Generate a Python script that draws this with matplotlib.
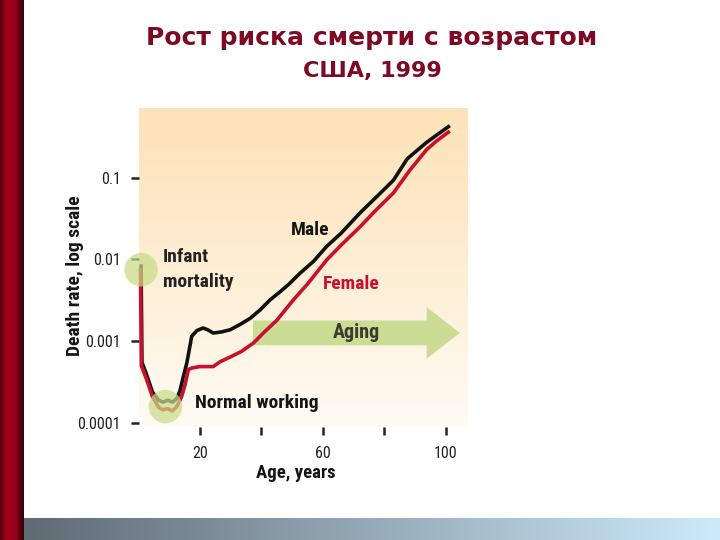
import numpy as np
import matplotlib
matplotlib.use('Agg')
import matplotlib.pyplot as plt
from matplotlib import font_manager
from matplotlib.patches import FancyArrow
from matplotlib.ticker import NullLocator, FixedLocator, FixedFormatter

# ---------------- data ----------------
male_age = [0.8, 1.1, 2.5, 4.5, 6.5, 8, 9.5, 11, 12.5, 13.5, 14.5, 15.7, 17.3, 19, 21,
            22.5, 24.3, 27, 29.8, 33, 36.3, 39.5, 42.8, 46, 49, 52.6, 57, 61.3,
            66, 72.1, 78.6, 83, 87.5, 91, 93.8, 97, 100.9]
male_rate = [0.0083, 0.00055, 0.00040, 0.00024, 0.00019, 0.00018, 0.00019, 0.00018,
             0.00020, 0.00025, 0.00036, 0.00054, 0.00115, 0.00135, 0.00145,
             0.00138, 0.00126, 0.00130, 0.00138, 0.00160, 0.0019, 0.0024, 0.0032,
             0.0040, 0.0050, 0.0068, 0.0095, 0.0145, 0.021, 0.037, 0.064, 0.093,
             0.17, 0.22, 0.27, 0.33, 0.42]
female_age = [0.6, 0.9, 2.5, 4.5, 6.5, 8, 9.5, 11, 12.5, 14, 15.2, 16.2, 17.3, 20,
              24.3, 26.5, 29.8, 33.5, 37.4, 41, 45, 50.4, 55, 61.3, 66, 72.1,
              77, 83, 88.4, 93.8, 97, 100.9]
female_rate = [0.0075, 0.00050, 0.00035, 0.00021, 0.000155, 0.000145, 0.00015,
               0.00014, 0.00016, 0.00021, 0.00030, 0.00045, 0.00047, 0.00049,
               0.00049, 0.00056, 0.00064, 0.00075, 0.00095, 0.0013, 0.0018,
               0.0032, 0.0050, 0.0099, 0.015, 0.025, 0.039, 0.065, 0.124, 0.22,
               0.28, 0.36]
ytick_vals = [0.0001, 0.001, 0.01, 0.1]
ytick_labels = ['0.0001', '0.001', '0.01', '0.1']
xtick_vals = [20, 40, 60, 80, 100]
xtick_labels = ['20', '', '60', '', '100']
title_line1 = 'Рост риска смерти с возрастом'
title_line2 = 'США, 1999'
male_label = 'Male'
female_label = 'Female'
infant_label = ['Infant', 'mortality']
normal_label = 'Normal working'
aging_label = 'Aging'
x_label = 'Age, years'
y_label = 'Death rate, log scale'


def pick(cands):
    for c in cands:
        try:
            font_manager.findfont(font_manager.FontProperties(family=c),
                                  fallback_to_default=False)
            return c
        except Exception:
            pass
    return 'DejaVu Sans'


narrow = pick(['Liberation Sans Narrow', 'Roboto Condensed', 'DejaVu Sans Condensed',
               'Liberation Sans'])

W, H = 720.0, 540.0
fig = plt.figure(figsize=(7.2, 5.4), dpi=100)
fig.patch.set_facecolor('white')

# ---- left red bar ----
bar_ax = fig.add_axes([0, 0, 24 / W, 1])
bar_cols = np.array([[0.38, 0.0, 0.06], [0.55, 0.0, 0.10], [0.62, 0.0, 0.12],
                     [0.62, 0.0, 0.12], [0.60, 0.0, 0.12], [0.58, 0.0, 0.11],
                     [0.35, 0.0, 0.05], [0.25, 0.0, 0.04]])
bar_ax.imshow(bar_cols[np.newaxis, :, :], aspect='auto', extent=(0, 1, 0, 1),
              interpolation='bilinear')
bar_ax.axis('off')

# ---- bottom gradient strip ----
strip_ax = fig.add_axes([24 / W, 0, 1 - 24 / W, 22 / H])
t = np.linspace(0, 1, 256)
c0 = np.array([95, 107, 115]) / 255
c1 = np.array([205, 234, 251]) / 255
strip = (c0[None, :] * (1 - t[:, None]) + c1[None, :] * t[:, None])
strip_ax.imshow(strip[np.newaxis, :, :], aspect='auto', extent=(0, 1, 0, 1))
strip_ax.axis('off')

# ---- plot area ----
left, top, bottom, width = 138.6, 108.0, 427.0, 328.5
pos = [left / W, 1 - bottom / H, width / W, (bottom - top) / H]

bg_ax = fig.add_axes(pos)
tt = np.linspace(0, 1, 256)
ctop = np.array([253, 227, 186]) / 255
cbot = np.array([255, 252, 245]) / 255
grad = ctop[None, :] * (1 - tt[:, None] ** 1.2) + cbot[None, :] * (tt[:, None] ** 1.2)
bg_ax.imshow(grad[:, np.newaxis, :], aspect='auto', extent=(0, 1, 0, 1))
bg_ax.axis('off')

ax = fig.add_axes(pos)
ax.patch.set_alpha(0)
ax.set_yscale('log')
ax.set_xlim(0, 107)
ax.set_ylim(10 ** (-4 - 4 / 81.8), 10 ** (-0.148))
for s in ax.spines.values():
    s.set_visible(False)

ax.yaxis.set_major_locator(FixedLocator(ytick_vals))
ax.yaxis.set_major_formatter(FixedFormatter(ytick_labels))
ax.yaxis.set_minor_locator(NullLocator())
ax.xaxis.set_major_locator(FixedLocator(xtick_vals))
ax.xaxis.set_major_formatter(FixedFormatter(xtick_labels))
ax.tick_params(axis='y', direction='out', length=6, width=1.8, color='#222222',
               pad=7, labelsize=11.5, labelcolor='#222222')
ax.tick_params(axis='x', direction='out', length=5.5, width=1.8, color='#222222',
               pad=8, labelsize=11.5, labelcolor='#222222')
for lab in ax.get_xticklabels() + ax.get_yticklabels():
    lab.set_family(narrow)

# arrow
ax.add_patch(FancyArrow(0.348, 0.295, 0.63, 0, width=0.078, head_width=0.162,
                        head_length=0.101, length_includes_head=True,
                        transform=ax.transAxes, color='#cbdc95', ec='none', zorder=2))

# curves
ax.plot(male_age, male_rate, color='#111111', lw=2.6, solid_joinstyle='round',
        zorder=3, clip_on=False)
ax.plot(female_age, female_rate, color='#c8102e', lw=2.6, solid_joinstyle='round',
        zorder=3.5, clip_on=False)

# highlight circles (derived from the data)
infant_pt = (male_age[0], np.sqrt(male_rate[0] * female_rate[0]) * 0.95)
mmin = min(male_rate)
trough_ages = [a for a, r in zip(male_age, male_rate) if r <= mmin * 1.06]
trough_pt = (np.mean(trough_ages), np.sqrt(mmin * min(female_rate)))
ax.scatter([infant_pt[0], trough_pt[0]], [infant_pt[1], trough_pt[1]], s=580,
           color='#c8dc88', alpha=0.72, edgecolors='none', zorder=5, clip_on=False)

txt_kw = dict(family=narrow, weight='bold', fontsize=14, va='center', ha='left')
ax.text(0.464, 0.618, male_label, color='#151515', transform=ax.transAxes, **txt_kw)
ax.text(0.562, 0.448, female_label, color='#c8102e', transform=ax.transAxes, **txt_kw)
ax.text(0.075, 0.533, infant_label[0], color='#222222', transform=ax.transAxes, **txt_kw)
ax.text(0.075, 0.455, infant_label[1], color='#222222', transform=ax.transAxes, **txt_kw)
ax.text(0.172, 0.075, normal_label, color='#151515', transform=ax.transAxes, **txt_kw)
ax.text(0.664, 0.295, aging_label, color='#3a3a2e', transform=ax.transAxes,
        family=narrow, weight='bold', fontsize=14.5, va='center', ha='center',
        zorder=6)

# axis labels
fig.text(296 / W, 1 - 473 / H, x_label, family=narrow, weight='bold', fontsize=13.5,
         ha='center', va='center', color='#151515')
fig.text(75 / W, 1 - 276 / H, y_label, family=narrow, weight='bold', fontsize=14,
         ha='center', va='center', rotation=90, color='#151515')

# title
fig.text(372 / W, 1 - 45 / H, title_line1, family='DejaVu Sans', weight='bold',
         fontsize=18, ha='center', va='baseline', color='#7d0a24')
fig.text(372 / W, 1 - 77 / H, title_line2, family='DejaVu Sans', weight='bold',
         fontsize=16, ha='center', va='baseline', color='#7d0a24')

fig.savefig('out.png', dpi=100)
